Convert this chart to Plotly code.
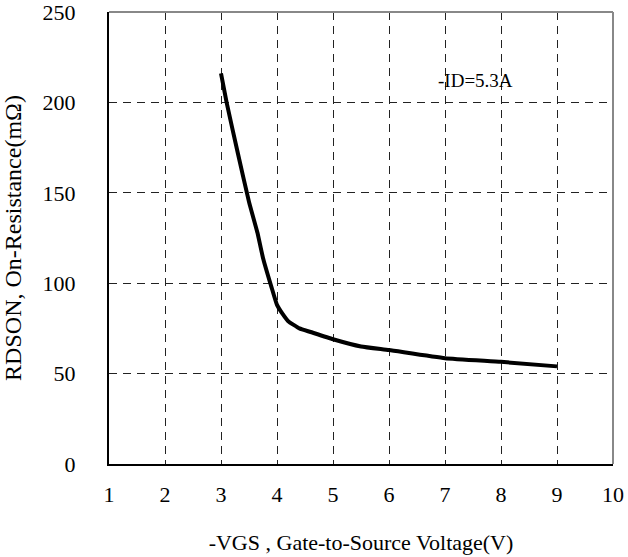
import plotly.graph_objects as go

vgs = [3.0, 3.1, 3.3, 3.5, 3.65, 3.75, 3.9, 4.0, 4.1, 4.2, 4.4, 4.6, 5.0, 5.5, 6.0, 7.0, 8.0, 9.0]
rdson = [216, 200, 172, 145, 128, 114, 98, 88, 83, 79, 75, 73, 69, 65, 63, 58.5, 56.5, 54]

x_ticks = [1, 2, 3, 4, 5, 6, 7, 8, 9, 10]
y_ticks = [0, 50, 100, 150, 200, 250]

font_family = "Liberation Serif"

fig = go.Figure()
fig.add_trace(go.Scatter(x=vgs, y=rdson, mode="lines",
                         line=dict(color="black", width=4, shape="spline", smoothing=0.4),
                         showlegend=False, hoverinfo="skip", cliponaxis=False))

fig.add_annotation(x=7.55, y=212, text="-ID=5.3A", showarrow=False,
                   font=dict(family=font_family, size=19, color="black"))

# top and right frame (grey)
fig.add_shape(type="line", xref="paper", yref="paper", x0=0, x1=1, y0=1, y1=1,
              line=dict(color="#888888", width=2))
fig.add_shape(type="line", xref="paper", yref="paper", x0=1, x1=1, y0=0, y1=1,
              line=dict(color="#888888", width=2))

fig.update_layout(
    width=628, height=557,
    margin=dict(l=109, r=15, t=12, b=93),
    paper_bgcolor="white", plot_bgcolor="white",
    font=dict(family=font_family, size=22, color="black"),
    xaxis=dict(range=[1, 10], tickvals=x_ticks, ticktext=[str(v) for v in x_ticks],
               showgrid=True, gridcolor="#222222", griddash="8px,6px", gridwidth=1,
               showline=True, linecolor="black", linewidth=2, zeroline=False,
               ticks="", ticklabelstandoff=10, automargin=False, ticklabeloverflow="allow",
               title=dict(text="-VGS , Gate-to-Source Voltage(V)", standoff=28,
                          font=dict(size=22))),
    yaxis=dict(range=[0, 250], tickvals=y_ticks, ticktext=[str(v) for v in y_ticks],
               showgrid=True, gridcolor="#222222", griddash="8px,6px", gridwidth=1,
               showline=True, linecolor="black", linewidth=2, zeroline=False,
               ticks="", ticklabelstandoff=27, automargin=False, ticklabeloverflow="allow",
               title=dict(text="RDSON, On-Resistance(mΩ)", standoff=16,
                          font=dict(size=24))),
)

fig.write_html("out.html", config={"displayModeBar": False},
               post_script="document.body.style.margin='0';")
